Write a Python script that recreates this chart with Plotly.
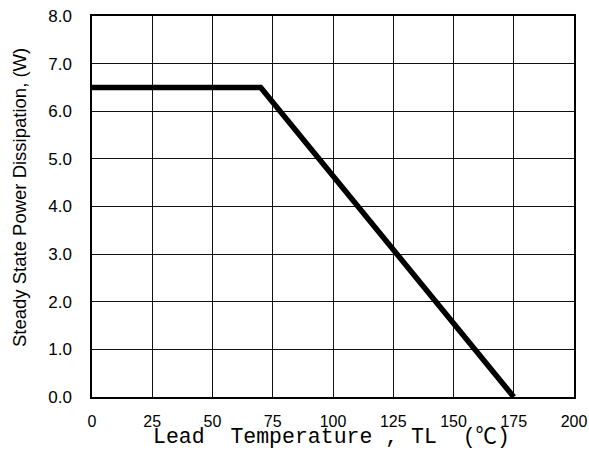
import plotly.graph_objects as go

temps = [0, 70, 175]
power = [6.5, 6.5, 0.0]
x_ticks = [0, 25, 50, 75, 100, 125, 150, 175, 200]
y_ticks = [0, 1, 2, 3, 4, 5, 6, 7, 8]
y_tick_text = ["0.0", "1.0", "2.0", "3.0", "4.0", "5.0", "6.0", "7.0", "8.0"]
x_title = "Lead  Temperature , TL  (℃)"
y_title = "Steady State Power Dissipation, (W)"

fig = go.Figure()
fig.add_trace(go.Scatter(x=temps, y=power, mode="lines",
                         line=dict(color="black", width=5.5), showlegend=False))

W, H = 589, 457
# plot area in page pixels
PL, PR, PT, PB = 92, 574, 16, 397
L, T, R, B = PL, PT, W - PR, H - PB
pw, ph = PR - PL, PB - PT

fig.update_layout(
    width=W, height=H,
    margin=dict(l=L, r=R, t=T, b=B, autoexpand=False),
    paper_bgcolor="white", plot_bgcolor="white",
    font=dict(family="Liberation Sans, Arial", color="black", size=15),
    xaxis=dict(range=[0, 200], tickvals=x_ticks, ticktext=[str(v) for v in x_ticks],
               showgrid=True, gridcolor="#111", gridwidth=1, zeroline=False,
               showline=True, linecolor="black", linewidth=1.5, mirror=True,
               automargin=False, ticklabeloverflow="allow",
               ticks="", ticklabelstandoff=9, tickfont=dict(size=16)),
    yaxis=dict(range=[0, 8], tickvals=y_ticks, ticktext=y_tick_text,
               showgrid=True, gridcolor="#111", gridwidth=1, zeroline=False,
               showline=True, linecolor="black", linewidth=1.5, mirror=True,
               automargin=False, ticklabeloverflow="allow",
               ticks="", ticklabelstandoff=15, tickfont=dict(size=17)),
    annotations=[
        dict(text=y_title, textangle=-90, xref="paper", yref="paper",
             x=(19 - PL) / pw, y=(PB - 198) / ph, xanchor="center", yanchor="middle",
             showarrow=False, font=dict(size=18.5, family="Liberation Sans, Arial")),
        dict(text=x_title, xref="paper", yref="paper",
             x=(151 - PL) / pw, y=(PB - 437) / ph, xanchor="left", yanchor="middle",
             showarrow=False,
             font=dict(size=21.5, family="Liberation Mono, Noto Sans CJK SC", color="black")),
    ],
)

fig.write_html("out.html",
               config={"displayModeBar": False},
               post_script="document.body.style.margin='0';document.body.style.overflow='hidden';")
